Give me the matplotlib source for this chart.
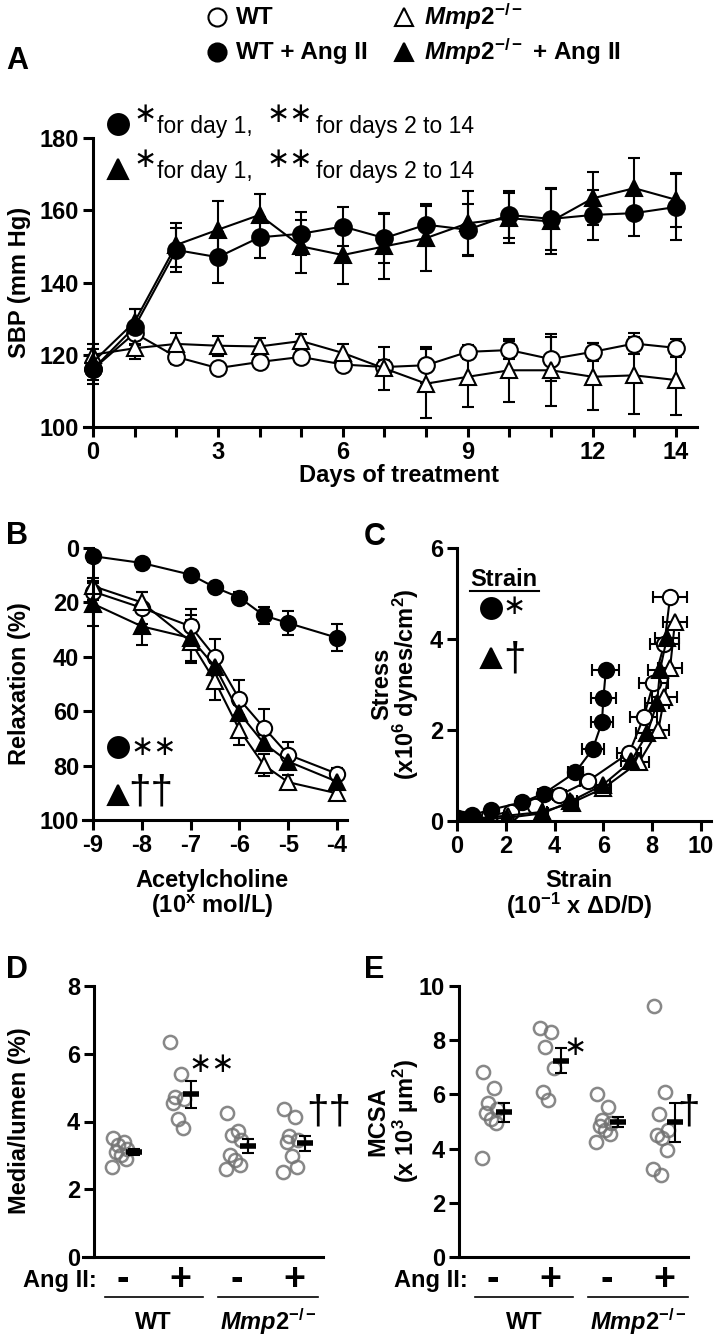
import numpy as np
import matplotlib.pyplot as plt
from matplotlib.lines import Line2D
import matplotlib.transforms as mtransforms

plt.rcParams['font.family'] = ['Liberation Sans', 'DejaVu Sans']
plt.rcParams['font.weight'] = 'bold'
plt.rcParams['mathtext.fontset'] = 'custom'
plt.rcParams['mathtext.rm'] = 'Liberation Sans:bold'
plt.rcParams['mathtext.it'] = 'Liberation Sans:italic:bold'
plt.rcParams['mathtext.bf'] = 'Liberation Sans:bold'
plt.rcParams['mathtext.default'] = 'regular'

# ---------------- data ----------------
# A: systolic blood pressure over 14 days
days = np.arange(15)
sbp_wt = [116, 126, 119.4, 116.3, 118, 119.4, 117.3, 116.6, 117.1, 120.8, 121.3, 118.8, 120.8, 123.1, 121.9]
sbp_wt_err = [4, 3, 2, 1.5, 1.5, 1.5, 1.5, 2, 5, 2, 2.5, 6, 2.5, 3, 2.5]
sbp_wt_ang = [116, 127.7, 149, 147, 152.5, 153.5, 155.5, 152.3, 156, 154.6, 158.7, 157.6, 158.7, 159.2, 160.9]
sbp_wt_ang_err = [3, 5, 6, 7, 5.7, 6, 5.5, 7, 5.8, 7, 6.5, 8.5, 7, 6.3, 9]
sbp_mmp = [120, 121.8, 123, 122.5, 122.3, 123.8, 120.5, 116.2, 112, 113.9, 115.7, 115.7, 113.9, 114.3, 113]
sbp_mmp_err = [3, 3, 3, 2.8, 2.3, 2, 2.5, 6, 9.5, 8.5, 8.7, 10, 9.3, 10.6, 9.7]
sbp_mmp_ang = [118, 129.1, 150.4, 154.6, 158.7, 150, 147.6, 150, 152.3, 156.4, 157.8, 156.9, 163.3, 166.1, 162.9]
sbp_mmp_ang_err = [3.5, 3.5, 6, 8, 5.8, 7.3, 8.1, 9, 9, 9, 7, 9, 7.4, 8.4, 7.4]

# B: relaxation to acetylcholine
ach = [-9, -8, -7, -6.5, -6, -5.5, -5, -4]
rel_wt = [16, 22, 28.8, 40, 55.6, 66, 76, 83]
rel_wt_err = [3, 6, 6.5, 6.7, 7, 6.8, 4.6, 2]
rel_wt_ang = [3, 5.5, 9.8, 14.5, 18.2, 24.8, 27.6, 33]
rel_wt_ang_err = [2, 1.5, 1.5, 1.5, 2, 3, 4.5, 5]
rel_mmp = [14, 20, 34.4, 49, 66.9, 79.8, 86.1, 90.2]
rel_mmp_err = [3, 4, 7.9, 6.8, 5.5, 4.2, 2.5, 1.5]
rel_mmp_ang = [20.5, 28.8, 33.1, 43.6, 60.7, 71.8, 78.5, 85.9]
rel_mmp_ang_err = [8.3, 7, 8.6, 3, 3, 3, 2.5, 2]

# C: stress-strain
st_wt_x = [0.0, 0.2, 1.3, 2.2, 3.2, 4.2, 5.35, 7.06, 7.65, 8.05, 8.5, 8.73]
st_wt_y = [0.02, 0.05, 0.12, 0.2, 0.33, 0.57, 0.87, 1.5, 2.28, 3.03, 3.9, 4.92]
st_wt_err = [0.1, 0.1, 0.15, 0.2, 0.2, 0.25, 0.3, 0.5, 0.55, 0.6, 0.6, 0.7]
st_wt_ang_x = [0.05, 0.6, 1.4, 2.66, 3.55, 4.85, 5.56, 5.94, 6.0, 6.1]
st_wt_ang_y = [0.07, 0.13, 0.25, 0.41, 0.6, 1.07, 1.58, 2.17, 2.71, 3.31]
st_wt_ang_err = [0.1, 0.1, 0.15, 0.2, 0.25, 0.3, 0.45, 0.45, 0.5, 0.55]
st_mmp_x = [0.0, 1.43, 2.1, 3.5, 4.7, 6.0, 7.47, 8.25, 8.5, 8.73, 8.93]
st_mmp_y = [0.02, 0.09, 0.12, 0.2, 0.4, 0.72, 1.3, 2.0, 2.73, 3.36, 4.37]
st_mmp_err = [0.1, 0.15, 0.15, 0.2, 0.25, 0.3, 0.4, 0.45, 0.5, 0.5, 0.5]
st_mmp_ang_x = [0.0, 1.3, 2.05, 3.52, 4.65, 5.97, 7.13, 7.8, 8.2, 8.32, 8.6]
st_mmp_ang_y = [0.02, 0.05, 0.07, 0.17, 0.43, 0.79, 1.31, 1.93, 2.6, 3.32, 4.02]
st_mmp_ang_err = [0.1, 0.15, 0.15, 0.2, 0.25, 0.3, 0.4, 0.45, 0.5, 0.5, 0.5]

# D: media/lumen (%) per animal
ml_groups = [
    [3.5, 3.4, 3.3, 3.2, 3.1, 3.0, 2.9, 2.65],
    [6.35, 5.4, 4.72, 4.65, 4.55, 4.07, 3.8],
    [4.25, 3.73, 3.6, 3.45, 3.0, 2.85, 2.72, 2.6],
    [4.36, 4.12, 3.58, 3.45, 3.4, 2.99, 2.65, 2.5],
]
ml_mean = [3.1, 4.8, 3.28, 3.36]
ml_sem = [0.1, 0.4, 0.2, 0.22]

# E: MCSA (x10^3 um^2) per animal
mcsa_groups = [
    [6.84, 6.23, 5.7, 5.45, 5.3, 5.09, 4.94, 3.65],
    [8.44, 8.32, 7.76, 6.97, 6.1, 5.8],
    [6.0, 5.55, 5.06, 4.96, 4.85, 4.69, 4.53, 4.26],
    [9.26, 6.08, 5.27, 4.69, 4.5, 4.39, 3.96, 3.24, 3.03],
]
mcsa_mean = [5.34, 7.25, 4.98, 4.98]
mcsa_sem = [0.35, 0.45, 0.2, 0.72]

ang_signs = ['-', '+', '-', '+']
genotypes = ['WT', r'$\mathit{Mmp2^{-/-}}$']

# ---------------- layout helpers ----------------
W, H = 718, 1339
fig = plt.figure(figsize=(W / 100, H / 100), dpi=100)


def rect(l, t, r, b):
    return [l / W, 1 - b / H, (r - l) / W, (b - t) / H]


def ftext(x, y, s, **kw):
    kw.setdefault('ha', 'center')
    kw.setdefault('va', 'center')
    return fig.text(x / W, 1 - y / H, s, **kw)


def fmark(x, y, marker, filled, ms):
    fig.add_artist(Line2D([x / W], [1 - y / H], transform=fig.transFigure,
                          marker=marker, ms=ms, ls='none', mew=1.5,
                          mfc='k' if filled else 'white', mec='k'))


def stars(xc, y, n):
    ftext(xc, y, '∗' * n, family='DejaVu Sans', fontweight='normal', fontsize=20)


def daggers(xc, y, n):
    ftext(xc, y, '†' * n, family='Liberation Sans', fontweight='normal', fontsize=29)


def style(ax):
    for s in ['top', 'right']:
        ax.spines[s].set_visible(False)
    for s in ['left', 'bottom']:
        ax.spines[s].set_linewidth(2.2)
    ax.tick_params(width=2.2, length=7, labelsize=17, pad=3)


def series(ax, x, y, err, marker, filled, ms, horizontal=False):
    kw = dict(fmt='-' + marker, color='k', mfc='k' if filled else 'white', mec='k',
              ms=ms, mew=1.5, lw=1.5, elinewidth=1.5, capsize=4.5, capthick=1.5)
    if horizontal:
        ax.errorbar(x, y, xerr=err, **kw)
    else:
        ax.errorbar(x, y, yerr=err, **kw)


# ---------------- top legend ----------------
fmark(217, 17, 'o', False, 13)
ftext(236, 17, 'WT', ha='left', fontsize=17.5)
fmark(217, 52, 'o', True, 13)
ftext(236, 52, 'WT + Ang II', ha='left', fontsize=17.5)
fmark(404, 17, '^', False, 13)
ftext(424, 17, genotypes[1], ha='left', fontsize=17.5)
fmark(404, 52, '^', True, 13)
ftext(424, 52, genotypes[1] + ' + Ang II', ha='left', fontsize=17.5)

# ---------------- panel A ----------------
axA = fig.add_axes(rect(83.8, 138, 696.8, 427))
style(axA)
series(axA, days, sbp_wt, sbp_wt_err, 'o', False, 12)
series(axA, days, sbp_mmp, sbp_mmp_err, '^', False, 12)
series(axA, days, sbp_wt_ang, sbp_wt_ang_err, 'o', True, 12)
series(axA, days, sbp_mmp_ang, sbp_mmp_ang_err, '^', True, 12)
axA.set_xlim(-0.22, 14.5)
axA.set_ylim(100, 180)
axA.spines['left'].set_position(('data', 0))
axA.set_xticks(np.arange(15))
axA.set_xticklabels([str(d) if d in (0, 3, 6, 9, 12, 14) else '' for d in range(15)])
axA.set_yticks([100, 120, 140, 160, 180])
ftext(20, 282, 'SBP (mm Hg)', rotation=90, fontsize=17)
ftext(399, 482, 'Days of treatment', va='baseline', fontsize=17)
ftext(6, 61, 'A', ha='left', fontsize=22)

for yb, mk in [(133, 'o'), (178, '^')]:
    fmark(118, yb - 9, mk, True, 15)
    stars(145, yb - 19, 1)
    ftext(157, yb, 'for day 1,', ha='left', va='baseline', fontsize=16.5, fontweight='normal')
    stars(290, yb - 19, 2)
    ftext(316, yb, 'for days 2 to 14', ha='left', va='baseline', fontsize=16.5, fontweight='normal')

# ---------------- panel B ----------------
axB = fig.add_axes(rect(83.2, 548, 346.8, 820))
style(axB)
series(axB, ach, rel_wt, rel_wt_err, 'o', False, 11)
series(axB, ach, rel_mmp, rel_mmp_err, '^', False, 11)
series(axB, ach, rel_mmp_ang, rel_mmp_ang_err, '^', True, 11)
series(axB, ach, rel_wt_ang, rel_wt_ang_err, 'o', True, 11)
axB.set_xlim(-9.2, -3.8)
axB.set_ylim(100, 0)
axB.spines['left'].set_position(('data', -9))
axB.set_xticks([-9, -8, -7, -6, -5, -4])
axB.set_xticklabels(['-9', '-8', '-7', '-6', '-5', '-4'])
axB.set_yticks([0, 20, 40, 60, 80, 100])
ftext(20, 684, 'Relaxation (%)', rotation=90, fontsize=17)
ftext(212, 887, 'Acetylcholine', va='baseline', fontsize=17)
ftext(212, 906, '(10$^{x}$ mol/L)', fontsize=17)
ftext(6, 536, 'B', ha='left', fontsize=22)
fmark(118, 747, 'o', True, 15)
stars(154, 747, 2)
fmark(118, 795, '^', True, 15)
daggers(151, 793, 2)

# ---------------- panel C ----------------
axC = fig.add_axes(rect(457, 548, 710.8, 821))
style(axC)
series(axC, st_wt_x, st_wt_y, st_wt_err, 'o', False, 11, horizontal=True)
series(axC, st_mmp_x, st_mmp_y, st_mmp_err, '^', False, 11, horizontal=True)
series(axC, st_mmp_ang_x, st_mmp_ang_y, st_mmp_ang_err, '^', True, 11, horizontal=True)
series(axC, st_wt_ang_x, st_wt_ang_y, st_wt_ang_err, 'o', True, 11, horizontal=True)
axC.set_xlim(0, 10.4)
axC.set_ylim(0, 6)
axC.set_xticks([0, 2, 4, 6, 8, 10])
axC.set_yticks([0, 2, 4, 6])
ftext(382, 684, 'Stress', rotation=90, fontsize=17)
ftext(406, 684, '(x10$^{6}$ dynes/cm$^{2}$)', rotation=90, fontsize=17)
ftext(579, 887, 'Strain', va='baseline', fontsize=17)
ftext(579, 906, '(10$^{-1}$ x ΔD/D)', fontsize=17)
ftext(364, 537, 'C', ha='left', fontsize=22)
ftext(470, 580, 'Strain', ha='left', fontsize=17)
fig.add_artist(Line2D([470 / W, 539 / W], [1 - 591 / H, 1 - 591 / H], transform=fig.transFigure,
                      color='k', lw=1.5))
fmark(491, 608, 'o', True, 15)
stars(514, 606, 1)
fmark(491, 658, '^', True, 15)
daggers(515, 660, 1)

# ---------------- panels D and E ----------------
JITTER = [-0.12, 0.06, -0.04, 0.12, -0.08, 0.02, 0.1, -0.14, 0.0]
group_x = np.arange(1, 5)


def dot_panel(ax, groups, means, sems, ymax, ytick_step):
    style(ax)
    for gx, vals in zip(group_x, groups):
        xs = [gx - 0.05 + JITTER[i % len(JITTER)] for i in range(len(vals))]
        ax.plot(xs, vals, 'o', ls='none', mfc='none', mec=(0.45, 0.45, 0.45, 0.85), ms=9.5, mew=1.8)
    mx = group_x + 0.2
    ax.errorbar(mx, means, yerr=sems, fmt='none', ecolor='k', elinewidth=1.5, capsize=4.5, capthick=1.5)
    ax.plot(mx, means, '_', color='k', ms=12, mew=4, ls='none')
    ax.set_ylim(0, ymax)
    ax.set_yticks(np.arange(0, ymax + 0.1, ytick_step))
    ax.set_xticks([])
    tr = mtransforms.blended_transform_factory(ax.transData, ax.transAxes)
    for gx, s in zip(group_x, ang_signs):
        ax.text(gx, -0.085, s, transform=tr, ha='center', va='center', fontsize=27)
    for (x0, x1), lab in zip([(0.68, 2.4), (2.67, 4.42)], genotypes):
        ax.plot([x0, x1], [-0.148, -0.148], color='k', lw=1.2, transform=tr, clip_on=False)
        ax.text((x0 + x1) / 2, -0.24, lab, transform=tr, ha='center', va='center', fontsize=17)


axD = fig.add_axes(rect(83.1, 986, 322.5, 1257))
dot_panel(axD, ml_groups, ml_mean, ml_sem, 8, 2)
axD.set_xlim(0.3, 4.5)
axD.spines['left'].set_position(('data', 0.49))
ftext(20, 1121, 'Media/lumen (%)', rotation=90, fontsize=17)
ftext(97, 1280, 'Ang II:', ha='right', fontsize=17)
ftext(6, 970, 'D', ha='left', fontsize=22)
stars(212, 1064, 2)
daggers(329, 1112, 2)

axE = fig.add_axes(rect(458.8, 986, 688, 1257))
dot_panel(axE, mcsa_groups, mcsa_mean, mcsa_sem, 10, 2)
axE.set_xlim(0.4, 4.42)
ftext(378, 1121, 'MCSA', rotation=90, fontsize=17)
ftext(406, 1121, '(x 10$^{3}$ µm$^{2}$)', rotation=90, fontsize=17)
ftext(468, 1280, 'Ang II:', ha='right', fontsize=17)
ftext(364, 970, 'E', ha='left', fontsize=22)
stars(575, 1047, 1)
daggers(689, 1113, 1)

fig.savefig('out.png', dpi=100)
